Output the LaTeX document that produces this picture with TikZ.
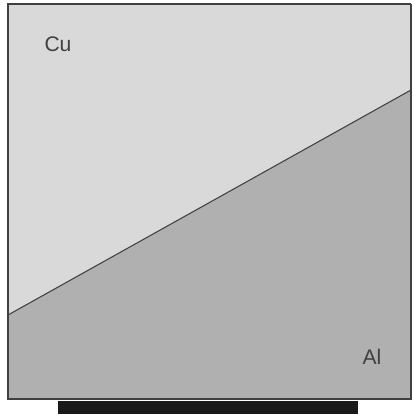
\documentclass[tikz,border=0pt]{standalone}
\usepackage{fontspec}
\setmainfont{Liberation Sans}
\usepackage{tikz}
\usetikzlibrary{positioning,calc}

\begin{document}
\begin{tikzpicture}[
    x=0.03cm, y=0.03cm,
    phase/.style={draw=none},
    edge/.style={draw=black!75, line width=0.9pt},
    metal/.style={font=\fontsize{18}{20}\selectfont, text=black!75, inner sep=0pt},
    substrate/.style={fill=black!90, draw=none}
]
    \useasboundingbox (0,0) rectangle (413,416);

    % Ecken
    \coordinate (sw) at (8,17);
    \coordinate (ne) at (411,412);
    \coordinate (ifl) at (8,101);
    \coordinate (ifr) at (411,326);

    % Phasen
    \fill[phase, fill=black!15] (ifl) -- (ifr) |- (ne) -| cycle;
    \fill[phase, fill=black!31] (sw) -| (ifr) -- (ifl) -- cycle;

    % Grenzen
    \draw[edge] (ifl) -- (ifr);
    \draw[edge] (ne) -| (sw) -| (ne);

    % Labels
    \node[metal] (cu) at (58,372) {Cu};
    \node[metal] (al) at (372,59) {Al};

    % Unterlage
    \fill[substrate] (58,2) rectangle (358,15);
\end{tikzpicture}
\end{document}
